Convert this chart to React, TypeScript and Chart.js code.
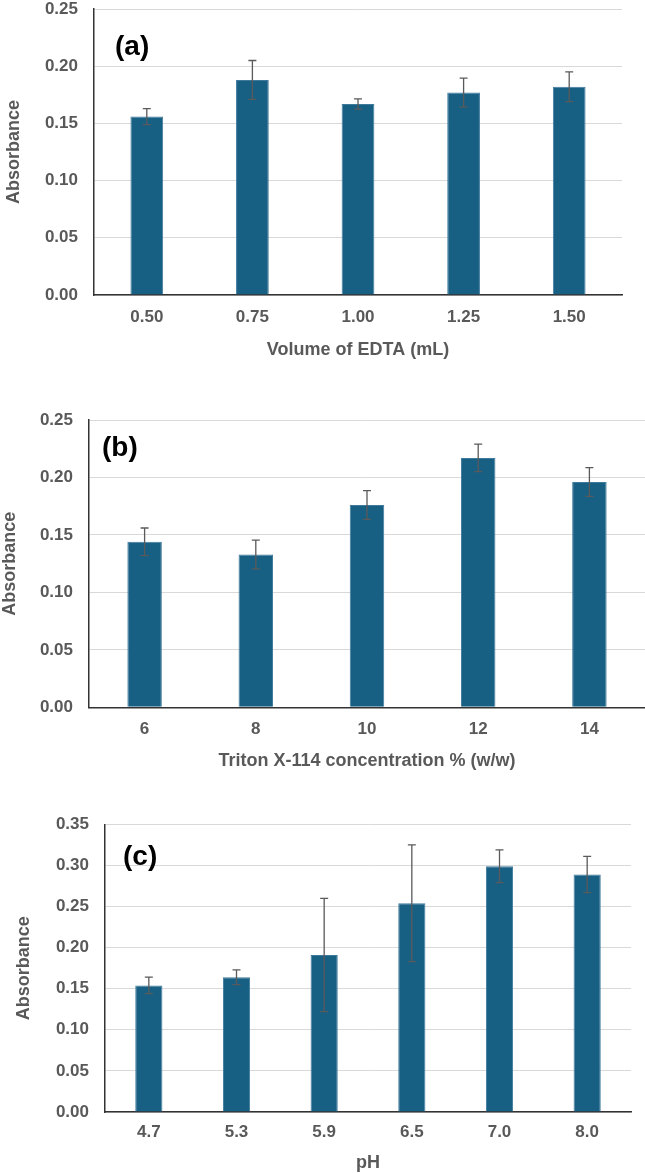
import React, { useEffect, useRef } from "react";
import { Chart, registerables } from "chart.js";

Chart.register(...registerables);

// ---- Data ----
const edtaLabels = ["0.50", "0.75", "1.00", "1.25", "1.50"];
const edtaValues = [0.156, 0.188, 0.167, 0.177, 0.182];
const edtaErrors = [0.007, 0.017, 0.0045, 0.0125, 0.013];

const tritonLabels = ["6", "8", "10", "12", "14"];
const tritonValues = [0.144, 0.133, 0.176, 0.217, 0.196];
const tritonErrors = [0.012, 0.0125, 0.0125, 0.012, 0.0125];

const phLabels = ["4.7", "5.3", "5.9", "6.5", "7.0", "8.0"];
const phValues = [0.154, 0.164, 0.191, 0.254, 0.299, 0.289];
const phErrors = [0.01, 0.009, 0.069, 0.071, 0.02, 0.022];

const BAR_COLOR = "#185f84";
const TEXT_GRAY = "#595959";
const FONT = "'Liberation Sans', Arial, sans-serif";

const errorBarPlugin = {
  id: "errorBars",
  afterDatasetsDraw(chart: any, _args: any, opts: any) {
    const errors: number[] = opts.errors || [];
    const meta = chart.getDatasetMeta(0);
    const ys = chart.scales.y;
    const data = chart.data.datasets[0].data as number[];
    const ctx = chart.ctx;
    ctx.save();
    ctx.strokeStyle = "#5a5a5a";
    ctx.lineWidth = 1.3;
    meta.data.forEach((el: any, i: number) => {
      const v = data[i];
      const e = errors[i] || 0;
      const x = el.x;
      const yt = ys.getPixelForValue(v + e);
      const yb = ys.getPixelForValue(v - e);
      ctx.beginPath();
      ctx.moveTo(x, yt);
      ctx.lineTo(x, yb);
      ctx.moveTo(x - 4, yt);
      ctx.lineTo(x + 4, yt);
      ctx.moveTo(x - 4, yb);
      ctx.lineTo(x + 4, yb);
      ctx.stroke();
    });
    ctx.restore();
  },
};

const panelLabelPlugin = {
  id: "panelLabel",
  afterDraw(chart: any, _args: any, opts: any) {
    const ctx = chart.ctx;
    const area = chart.chartArea;
    ctx.save();
    ctx.font = `bold 28px ${FONT}`;
    ctx.fillStyle = "#000000";
    ctx.textAlign = "left";
    ctx.textBaseline = "middle";
    ctx.fillText(opts.text, area.left + opts.dx, area.top + opts.dy);
    ctx.restore();
  },
};

type PanelProps = {
  top: number;
  height: number;
  labels: string[];
  values: number[];
  errors: number[];
  yMax: number;
  xTitle: string;
  panel: string;
  panelDx: number;
  panelDy: number;
  padTop: number;
  padRight: number;
  padBottom: number;
  yAxisWidth: number;
  xAxisHeight: number;
  yTitlePad: number;
  xTickPad: number;
};

function Panel(p: PanelProps) {
  const ref = useRef<HTMLCanvasElement | null>(null);
  useEffect(() => {
    if (!ref.current) return;
    const chart = new Chart(ref.current, {
      type: "bar",
      data: {
        labels: p.labels,
        datasets: [
          {
            data: p.values,
            backgroundColor: BAR_COLOR,
            borderColor: "#3f7a9b",
            borderWidth: 1,
            barPercentage: 0.31,
            categoryPercentage: 1,
          },
        ],
      },
      options: {
        animation: false,
        responsive: false,
        layout: {
          padding: { left: 0, right: p.padRight, top: p.padTop, bottom: p.padBottom },
        },
        plugins: {
          legend: { display: false },
          tooltip: { enabled: false },
          errorBars: { errors: p.errors },
          panelLabel: { text: p.panel, dx: p.panelDx, dy: p.panelDy },
        } as any,
        scales: {
          x: {
            grid: { display: false, drawTicks: false },
            border: { display: true, color: "#333333", width: 1.5 },
            ticks: {
              color: TEXT_GRAY,
              font: { family: FONT, size: 17, weight: "bold", lineHeight: 1.2 },
              padding: p.xTickPad,
              maxRotation: 0,
            },
            title: {
              display: true,
              text: p.xTitle,
              color: TEXT_GRAY,
              font: { family: FONT, size: 18, weight: "bold", lineHeight: 1 },
              padding: { top: 0, bottom: 0 },
            },
            afterFit: (s: any) => {
              s.height = p.xAxisHeight;
            },
          },
          y: {
            min: 0,
            max: p.yMax,
            grid: { color: "#d9d9d9", lineWidth: 1, drawTicks: false },
            border: { display: true, color: "#333333", width: 1.5 },
            ticks: {
              stepSize: 0.05,
              color: TEXT_GRAY,
              font: { family: FONT, size: 17, weight: "bold", lineHeight: 1.2 },
              padding: 16,
              callback: (v: any) => Number(v).toFixed(2),
            },
            title: {
              display: true,
              text: "Absorbance",
              color: TEXT_GRAY,
              font: { family: FONT, size: 18, weight: "bold", lineHeight: 1 },
              padding: { top: p.yTitlePad, bottom: 0 },
            },
            afterFit: (s: any) => {
              s.width = p.yAxisWidth;
              s.paddingTop = 0;
              s.paddingBottom = 0;
            },
          },
        },
      },
      plugins: [errorBarPlugin, panelLabelPlugin],
    } as any);
    return () => chart.destroy();
  }, []);
  return (
    <div style={{ position: "absolute", left: 0, top: p.top, width: 645, height: p.height }}>
      <canvas ref={ref} width={645} height={p.height} style={{ display: "block" }} />
    </div>
  );
}

export default function App() {
  return (
    <div
      style={{
        position: "absolute",
        left: 0,
        top: 0,
        width: 645,
        height: 1173,
        background: "#ffffff",
        overflow: "hidden",
      }}
    >
      <Panel
        top={0}
        height={390}
        labels={edtaLabels}
        values={edtaValues}
        errors={edtaErrors}
        yMax={0.25}
        xTitle="Volume of EDTA (mL)"
        panel="(a)"
        panelDx={21}
        panelDy={38}
        padTop={9}
        padRight={23}
        padBottom={31}
        yAxisWidth={94}
        xAxisHeight={64}
        yTitlePad={5.5}
        xTickPad={12}
      />
      <Panel
        top={390}
        height={390}
        labels={tritonLabels}
        values={tritonValues}
        errors={tritonErrors}
        yMax={0.25}
        xTitle="Triton X-114 concentration % (w/w)"
        panel="(b)"
        panelDx={13}
        panelDy={28}
        padTop={30}
        padRight={0}
        padBottom={10}
        yAxisWidth={89}
        xAxisHeight={62.7}
        yTitlePad={1}
        xTickPad={11.5}
      />
      <Panel
        top={780}
        height={393}
        labels={phLabels}
        values={phValues}
        errors={phErrors}
        yMax={0.35}
        xTitle="pH"
        panel="(c)"
        panelDx={18}
        panelDy={33}
        padTop={44.3}
        padRight={14}
        padBottom={1.3}
        yAxisWidth={105}
        xAxisHeight={59.7}
        yTitlePad={15}
        xTickPad={10.5}
      />
    </div>
  );
}
